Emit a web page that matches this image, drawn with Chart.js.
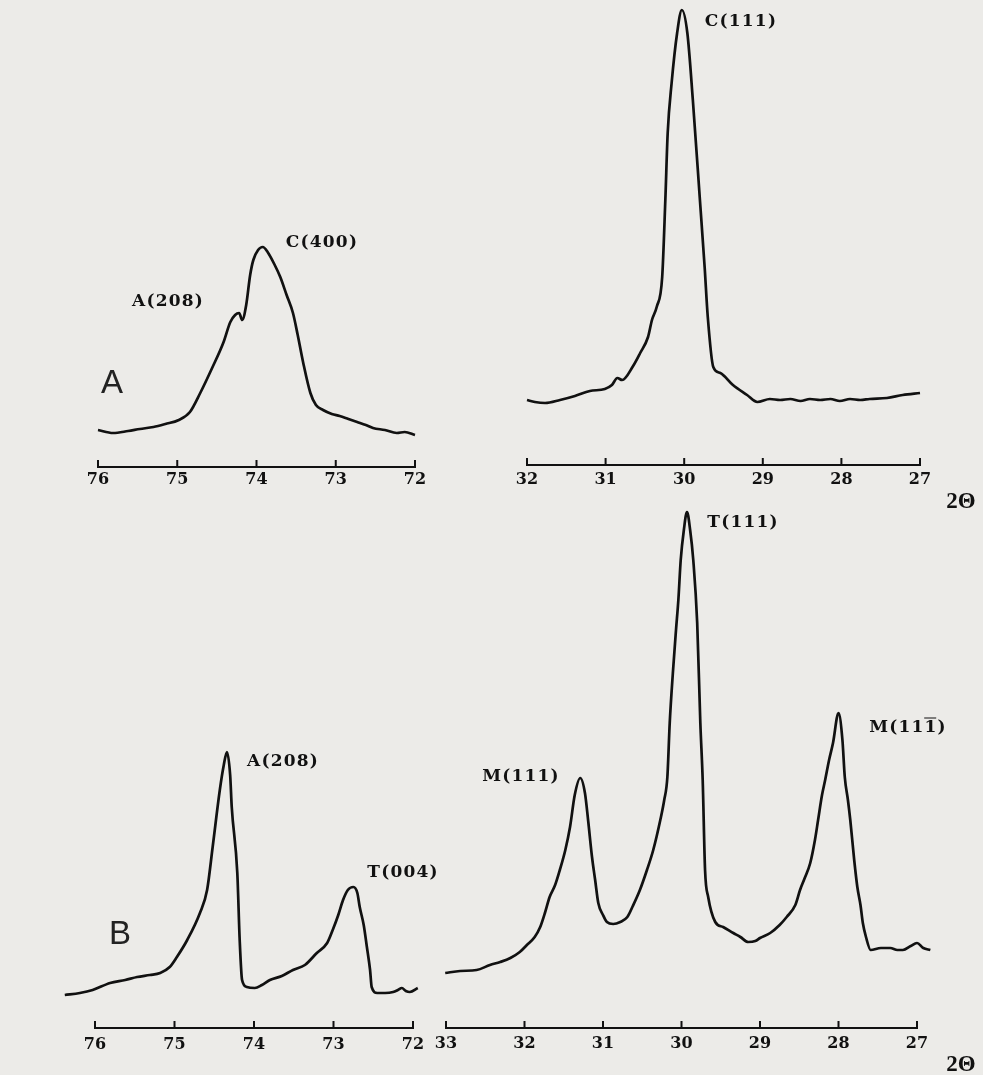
<!DOCTYPE html>
<html>
<head>
<meta charset="utf-8">
<script src="https://cdn.jsdelivr.net/npm/chart.js@4.4.1/dist/chart.umd.min.js"></script>
<style>
  html, body { margin: 0; padding: 0; }
  body {
    width: 983px;
    height: 1075px;
    background: #ecebe8;
    position: relative;
    overflow: hidden;
    font-family: 'DejaVu Serif', serif;
    color: #111;
  }
  canvas { position: absolute; }
  .lbl {
    position: absolute;
    transform: translate(-50%, -50%);
    font-family: 'DejaVu Serif', serif;
    font-weight: bold;
    font-size: 17px;
    letter-spacing: 1.2px;
    white-space: nowrap;
    line-height: 1;
  }
  .panel {
    position: absolute;
    transform: translate(-50%, -50%);
    font-family: 'Liberation Sans', sans-serif;
    font-size: 33px;
    color: #222;
    line-height: 1;
  }
  .axis2t {
    position: absolute;
    transform: translate(-50%, -50%);
    font-family: 'Liberation Serif', serif;
    font-weight: bold;
    font-size: 23px;
    line-height: 1;
  }
  .bar {
    display: inline-block;
    border-top: 1.5px solid #111;
    line-height: 12px;
    padding-top: 1px;
    letter-spacing: 0;
    margin-right: 1.2px;
  }
</style>
</head>
<body>
<canvas id="aHigh" width="377" height="277" style="left:68px;top:220px"></canvas>
<canvas id="aLow" width="453" height="495" style="left:497px;top:0px"></canvas>
<canvas id="bHigh" width="388" height="328" style="left:55px;top:730px"></canvas>
<canvas id="bLow" width="531" height="568" style="left:416px;top:490px"></canvas>

<div class="lbl" style="left:168px;top:300px">A(208)</div>
<div class="lbl" style="left:322px;top:241px">C(400)</div>
<div class="panel" style="left:112px;top:381px">A</div>
<div class="lbl" style="left:741px;top:20px">C(111)</div>
<div class="axis2t" style="left:961px;top:500px">2Θ</div>

<div class="lbl" style="left:283px;top:760px">A(208)</div>
<div class="lbl" style="left:403px;top:871px">T(004)</div>
<div class="panel" style="left:120px;top:932px">B</div>
<div class="lbl" style="left:521px;top:775px">M(111)</div>
<div class="lbl" style="left:743px;top:521px">T(111)</div>
<div class="lbl" style="left:908px;top:726px">M(11<span class="bar">1</span>)</div>
<div class="axis2t" style="left:961px;top:1063px">2Θ</div>

<script>
// sample A, 2theta 72-76 (A(208) shoulder + C(400))
const aHigh2Theta = [76.00, 75.81, 75.62, 75.47, 75.30, 75.15, 74.98, 74.84, 74.71, 74.56, 74.42, 74.33, 74.27, 74.22, 74.18, 74.13, 74.08, 74.04, 73.98, 73.92, 73.86, 73.77, 73.70, 73.62, 73.54, 73.48, 73.41, 73.32, 73.25, 73.16, 73.05, 72.95, 72.84, 72.73, 72.62, 72.53, 72.38, 72.23, 72.13, 72.00]
const aHighI = [37, 34, 36, 38, 40, 43, 47, 55, 74, 99, 124, 145, 152, 154, 147, 162, 192, 207, 217, 220, 215, 202, 190, 172, 154, 132, 104, 74, 62, 57, 53, 51, 48, 45, 42, 39, 37, 34, 35, 32]

// sample A, 2theta 27-32 (C(111))
const aLow2Theta = [32.00, 31.90, 31.77, 31.58, 31.39, 31.20, 31.01, 30.92, 30.85, 30.79, 30.65, 30.56, 30.46, 30.41, 30.35, 30.28, 30.24, 30.21, 30.16, 30.09, 30.03, 29.96, 29.89, 29.80, 29.74, 29.70, 29.63, 29.54, 29.38, 29.20, 29.07, 28.91, 28.78, 28.65, 28.52, 28.40, 28.27, 28.14, 28.02, 27.89, 27.76, 27.64, 27.42, 27.22, 27.00]
const aLowI = [65, 63, 62, 65, 69, 74, 76, 80, 87, 85, 99, 112, 128, 145, 158, 188, 265, 332, 382, 432, 455, 432, 365, 265, 198, 148, 98, 92, 80, 70, 63, 66, 65, 66, 64, 66, 65, 66, 64, 66, 65, 66, 67, 70, 72]

// sample B, 2theta 72-76 (A(208) + T(004))
const bHigh2Theta = [76.38, 76.19, 76.03, 75.81, 75.62, 75.47, 75.31, 75.18, 75.06, 74.97, 74.84, 74.68, 74.59, 74.52, 74.43, 74.38, 74.34, 74.30, 74.28, 74.21, 74.18, 74.15, 74.09, 73.99, 73.90, 73.80, 73.65, 73.51, 73.36, 73.21, 73.08, 73.01, 72.94, 72.88, 72.82, 72.75, 72.70, 72.67, 72.62, 72.58, 72.54, 72.52, 72.45, 72.35, 72.25, 72.19, 72.14, 72.09, 72.04, 71.94]
const bHighI = [33, 35, 38, 45, 48, 51, 53, 55, 61, 71, 88, 115, 138, 181, 238, 263, 276, 253, 221, 155, 88, 48, 41, 40, 43, 48, 52, 58, 63, 75, 85, 98, 113, 128, 138, 141, 135, 121, 103, 81, 58, 41, 35, 35, 36, 38, 40, 37, 36, 40]

// sample B, 2theta 27-33 (M(111), T(111), M(11-1))
const bLow2Theta = [33.01, 32.82, 32.61, 32.44, 32.31, 32.18, 32.06, 31.97, 31.87, 31.80, 31.74, 31.68, 31.61, 31.55, 31.48, 31.42, 31.36, 31.29, 31.23, 31.19, 31.14, 31.10, 31.06, 31.00, 30.95, 30.87, 30.78, 30.69, 30.62, 30.53, 30.44, 30.36, 30.27, 30.22, 30.18, 30.15, 30.11, 30.07, 30.04, 30.01, 29.97, 29.93, 29.89, 29.85, 29.80, 29.76, 29.73, 29.70, 29.66, 29.57, 29.47, 29.34, 29.25, 29.15, 29.06, 29.00, 28.87, 28.75, 28.66, 28.55, 28.49, 28.43, 28.36, 28.30, 28.26, 28.21, 28.17, 28.12, 28.07, 28.00, 27.95, 27.92, 27.88, 27.85, 27.80, 27.76, 27.72, 27.69, 27.65, 27.59, 27.46, 27.34, 27.25, 27.18, 27.08, 27.00, 26.92, 26.83]
const bLowI = [55, 57, 58, 63, 66, 70, 76, 83, 91, 101, 115, 131, 143, 158, 178, 201, 233, 250, 235, 208, 171, 148, 125, 113, 106, 104, 106, 111, 122, 138, 158, 178, 208, 228, 251, 305, 355, 398, 428, 468, 498, 516, 498, 468, 405, 305, 248, 158, 131, 106, 101, 95, 91, 86, 87, 90, 95, 103, 111, 123, 138, 150, 165, 188, 208, 233, 248, 268, 285, 315, 288, 251, 228, 208, 168, 141, 123, 105, 91, 78, 80, 80, 78, 78, 82, 85, 80, 78]

const ticksHigh = [76, 75, 74, 73, 72]
const ticksLowA = [32, 31, 30, 29, 28, 27]
const ticksLowB = [33, 32, 31, 30, 29, 28, 27]

// ticks pointing up from the axis line, like the original plot
const upTicks = {
  id: 'upTicks',
  afterDraw(chart) {
    const s = chart.scales.x
    const ctx = chart.ctx
    const y = chart.chartArea.bottom
    ctx.save()
    ctx.strokeStyle = '#111'
    ctx.lineWidth = 2
    ctx.beginPath()
    s.ticks.forEach(t => {
      const px = s.getPixelForValue(t.value)
      ctx.moveTo(px, y)
      ctx.lineTo(px, y - 7)
    })
    ctx.stroke()
    ctx.restore()
  }
}

function makeScan(id, xs, ys, tickVals, yMax, pad) {
  const ctx = document.getElementById(id)
  return new Chart(ctx, {
    type: 'line',
    data: {
      datasets: [{
        data: xs.map((x, i) => ({ x, y: ys[i] })),
        borderColor: '#111',
        borderWidth: 2.7,
        pointRadius: 0,
        fill: false,
        cubicInterpolationMode: 'monotone',
        clip: false
      }]
    },
    options: {
      responsive: false,
      animation: false,
      devicePixelRatio: 1,
      layout: { padding: { left: pad.l, right: pad.r, top: pad.t, bottom: 0 } },
      scales: {
        x: {
          type: 'linear',
          reverse: true,
          min: Math.min(...tickVals),
          max: Math.max(...tickVals),
          afterBuildTicks: s => { s.ticks = tickVals.map(v => ({ value: v })) },
          afterFit: s => { s.height = 30 },
          grid: { display: false, drawTicks: false },
          border: { display: true, color: '#111', width: 2 },
          ticks: {
            color: '#111',
            padding: pad.lab,
            maxRotation: 0,
            autoSkip: false,
            font: { family: 'DejaVu Serif', weight: 'bold', size: 16 }
          }
        },
        y: { display: false, min: 0, max: yMax }
      },
      plugins: {
        legend: { display: false },
        tooltip: { enabled: false }
      }
    },
    plugins: [upTicks]
  })
}

makeScan('aHigh', aHigh2Theta, aHighI, ticksHigh, 237, { l: 30, r: 30, t: 10, lab: 3 })
makeScan('aLow', aLow2Theta, aLowI, ticksLowA, 460, { l: 30, r: 30, t: 5, lab: 5 })
makeScan('bHigh', bHigh2Theta, bHighI, ticksHigh, 288, { l: 40, r: 30, t: 10, lab: 7 })
makeScan('bLow', bLow2Theta, bLowI, ticksLowB, 528, { l: 30, r: 30, t: 10, lab: 6 })
</script>
</body>
</html>
